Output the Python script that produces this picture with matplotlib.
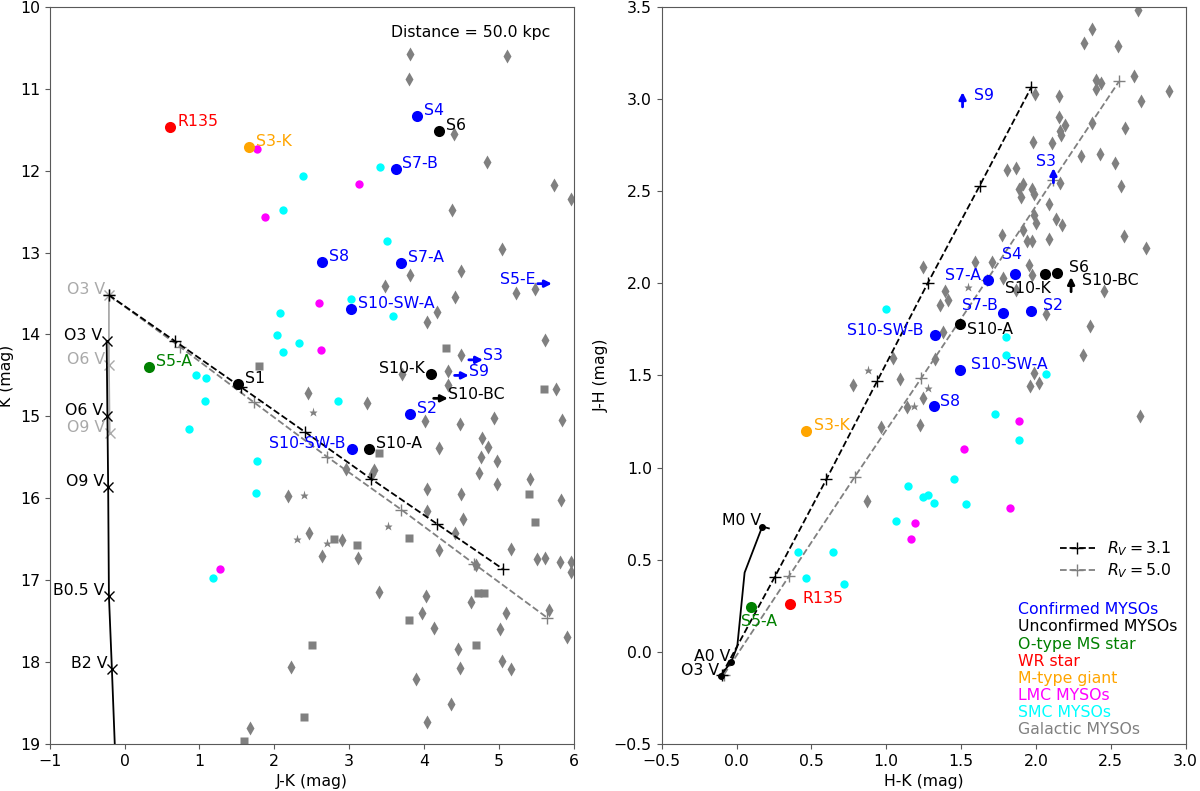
import numpy as np
import matplotlib
matplotlib.use('Agg')
import matplotlib.pyplot as plt
from matplotlib.lines import Line2D

plt.rcParams['font.size'] = 11.3
FS = 11.3

# ---------------- left panel: K vs J-K ----------------
# named sources (J-K, K)
conf_jk = [3.91, 3.62, 2.64, 3.70, 3.02, 3.82, 3.04]
conf_k = [11.33, 11.98, 13.12, 13.13, 13.69, 14.97, 15.40]
conf_names = ['S4', 'S7-B', 'S8', 'S7-A', 'S10-SW-A', 'S2', 'S10-SW-B']

unconf_jk = [4.20, 1.51, 4.10, 3.27]
unconf_k = [11.52, 14.60, 14.48, 15.40]
unconf_names = ['S6', 'S1', 'S10-K', 'S10-A']

ostar_jk, ostar_k = [0.33], [14.40]
wr_jk, wr_k = [0.61], [11.47]
mgiant_jk, mgiant_k = [1.66], [11.71]

# lower limits in J-K (arrows): name, J-K, K, colour
limits_left = [('S3', 4.60, 14.31, 'blue'),
               ('S9', 4.41, 14.50, 'blue'),
               ('S5-E', 5.52, 13.38, 'blue'),
               ('S10-BC', 4.13, 14.78, 'black')]

lmc_jk = [1.77, 3.13, 1.88, 2.60, 2.62, 1.28]
lmc_k = [11.74, 12.16, 12.57, 13.61, 14.19, 16.86]

smc_jk = [3.41, 2.39, 2.12, 3.51, 3.02, 3.58, 2.08, 2.04, 2.33, 2.12,
          0.95, 1.09, 1.08, 2.85, 0.86, 1.77, 1.75, 1.18]
smc_k = [11.95, 12.06, 12.48, 12.86, 13.57, 13.78, 13.74, 14.01, 14.10, 14.21,
         14.50, 14.53, 14.81, 14.81, 15.15, 15.55, 15.93, 16.97]

gal_d_jk = [3.81, 5.11, 3.80, 4.40, 4.84, 5.74, 5.96, 4.37, 5.04, 4.49,
            3.82, 3.48, 4.42, 5.23, 5.49, 4.17, 4.04, 5.62, 4.49, 3.71,
            4.32, 4.32, 5.76, 2.45, 3.24, 4.48, 4.93, 4.02, 5.85, 4.20,
            4.77, 4.86, 4.76, 4.97, 4.74, 4.97, 5.42, 5.83, 2.96, 3.33,
            3.31, 2.18, 4.04, 4.49, 4.04, 4.52, 4.41, 2.47, 2.91, 2.64,
            3.12, 4.20, 5.16, 5.51, 5.62, 5.82, 5.96, 5.96, 4.69, 3.40,
            4.03, 4.63, 3.98, 5.10, 5.67, 4.13, 5.01, 5.91, 4.46, 4.48,
            5.04, 5.17, 2.23, 3.90, 4.36, 4.04, 1.68]
gal_d_k = [10.58, 10.60, 10.88, 11.55, 11.90, 12.18, 12.35, 12.48, 12.96, 13.22,
           13.27, 13.41, 13.54, 13.49, 13.45, 13.72, 13.85, 14.07, 14.25, 14.48,
           14.45, 14.62, 14.66, 14.72, 14.84, 15.09, 15.02, 15.06, 15.04, 15.39,
           15.27, 15.38, 15.49, 15.55, 15.69, 15.82, 15.77, 16.02, 15.64, 15.65,
           15.70, 15.97, 15.89, 15.95, 16.16, 16.25, 16.43, 16.43, 16.51, 16.71,
           16.73, 16.63, 16.62, 16.74, 16.73, 16.78, 16.78, 16.90, 16.81, 17.14,
           17.19, 17.27, 17.40, 17.40, 17.37, 17.58, 17.59, 17.69, 17.84, 18.07,
           17.99, 18.09, 18.06, 18.21, 18.51, 18.73, 18.80]
gal_s_jk = [1.80, 4.29, 5.60, 3.40, 2.80, 3.10, 3.80, 5.40, 5.49, 4.72,
            4.80, 3.80, 2.50, 4.69, 2.40, 1.60]
gal_s_k = [14.38, 14.16, 14.66, 15.45, 16.50, 16.57, 16.49, 15.95, 16.29, 17.16,
           17.16, 17.48, 17.79, 17.79, 18.67, 18.96]
gal_st_jk = [2.52, 2.40, 2.30, 2.70, 3.52]
gal_st_k = [14.95, 15.96, 16.50, 16.54, 16.34]

# main sequence at 50 kpc
ms_names = ['O3 V', 'O6 V', 'O9 V', 'B0.5 V', 'B2 V']
ms_jk = [-0.24, -0.23, -0.22, -0.21, -0.17, -0.09]
ms_k = [14.08, 15.00, 15.86, 17.19, 18.09, 20.0]
ms2_names = ['O3 V', 'O6 V', 'O9 V']
ms2_jk = [-0.21, -0.21, -0.20]
ms2_k = [13.52, 14.37, 15.20]

# reddening vectors from O3 V
rv31_jk = [-0.21, 0.67, 1.55, 2.41, 3.29, 4.17, 5.05]
rv31_k = [13.52, 14.08, 14.64, 15.19, 15.76, 16.31, 16.86]
rv50_jk = [-0.21, 0.74, 1.73, 2.70, 3.70, 4.67, 5.65]
rv50_k = [13.52, 14.15, 14.83, 15.49, 16.14, 16.80, 17.46]

# ---------------- right panel: J-H vs H-K ----------------
conf_hk = [1.86, 1.78, 1.316, 1.68, 1.49, 1.97, 1.325]
conf_jh = [2.05, 1.84, 1.335, 2.02, 1.53, 1.85, 1.72]

unconf_hk = [2.144, 2.063, 1.494]
unconf_jh = [2.057, 2.048, 1.778]

ostar_hk, ostar_jh = [0.094], [0.241]
wr_hk, wr_jh = [0.354], [0.262]
mgiant_hk, mgiant_jh = [0.465], [1.20]

# lower limits in J-H (arrows)
limits_right = [('S9', 1.51, 2.957, 'blue'),
                ('S3', 2.117, 2.545, 'blue'),
                ('S10-BC', 2.235, 1.954, 'black')]

lmc_hk = [1.89, 1.52, 1.824, 1.19, 1.165]
lmc_jh = [1.25, 1.10, 0.78, 0.70, 0.61]

smc_hk = [1.00, 1.80, 1.80, 2.07, 1.73, 1.885, 1.456, 1.145, 1.244, 1.277,
          1.316, 1.53, 1.063, 0.41, 0.644, 0.465, 0.72]
smc_jh = [1.86, 1.71, 1.61, 1.51, 1.29, 1.15, 0.94, 0.90, 0.84, 0.853,
          0.81, 0.80, 0.71, 0.54, 0.54, 0.40, 0.37]

gal_d_hk = [2.685, 2.377, 2.324, 2.549, 2.653, 2.403, 2.437, 2.403, 2.889, 1.994,
            2.154, 2.703, 2.154, 2.597, 2.377, 2.194, 2.16, 2.17, 1.983, 2.106,
            2.298, 2.428, 2.529, 1.81, 1.87, 1.885, 1.914, 1.975, 1.99, 2.164,
            1.90, 2.09, 2.569, 1.985, 2.137, 2.175, 1.999, 1.914, 1.774, 1.943,
            1.975, 2.086, 2.586, 2.738, 1.596, 1.707, 1.244, 1.952, 1.975, 1.78,
            1.87, 2.457, 1.396, 1.414, 1.362, 2.068, 2.359, 1.38, 2.313, 1.044,
            1.325, 1.99, 1.963, 2.019, 1.089, 0.78, 1.244, 1.14, 0.966, 1.224,
            2.698, 0.87]
gal_d_jh = [3.482, 3.377, 3.306, 3.287, 3.124, 3.102, 3.088, 3.052, 3.044, 3.026,
            3.017, 2.988, 2.90, 2.84, 2.867, 2.856, 2.825, 2.804, 2.767, 2.762,
            2.69, 2.699, 2.655, 2.617, 2.626, 2.514, 2.541, 2.514, 2.487, 2.545,
            2.466, 2.428, 2.527, 2.37, 2.346, 2.314, 2.325, 2.288, 2.263, 2.229,
            2.229, 2.24, 2.257, 2.189, 2.116, 2.116, 2.086, 2.098, 2.044, 2.03,
            1.963, 1.959, 1.959, 1.908, 1.881, 1.832, 1.767, 1.736, 1.61, 1.596,
            1.587, 1.511, 1.442, 1.46, 1.483, 1.45, 1.38, 1.33, 1.22, 1.23,
            1.279, 0.82]
gal_st_hk = [0.88, 1.276, 1.547, 1.184]
gal_st_jh = [1.53, 1.433, 1.979, 1.333]

# intrinsic dwarf colours
track_hk = [-0.106, -0.035, 0.005, 0.054, 0.172, 0.216]
track_jh = [-0.129, -0.054, 0.03, 0.43, 0.68, 0.67]
track_lab = [('O3 V', -0.106, -0.129), ('A0 V', -0.035, -0.054), ('M0 V', 0.172, 0.68)]

rv31_hk = [-0.10, 0.255, 0.60, 0.94, 1.277, 1.625, 1.97]
rv31_jh = [-0.125, 0.406, 0.936, 1.47, 2.00, 2.53, 3.065]
rv50_hk = [-0.084, 0.35, 0.79, 1.234, 1.675, 2.115, 2.555]
rv50_jh = [-0.123, 0.41, 0.95, 1.485, 2.02, 2.56, 3.095]

legend_labels = ['Confirmed MYSOs', 'Unconfirmed MYSOs', 'O-type MS star', 'WR star',
                 'M-type giant', 'LMC MYSOs', 'SMC MYSOs', 'Galactic MYSOs']
legend_colors = ['blue', 'black', 'green', 'red', 'orange', 'magenta', 'cyan', 'grey']


def style_axes(ax):
    for sp in ax.spines.values():
        sp.set_color('0.35')
    ax.tick_params(color='0.35', labelsize=FS)


def lab(ax, text, x, y, color, dx=5, dy=4, ha='left'):
    ax.annotate(text, (x, y), xytext=(dx, dy), textcoords='offset points',
                color=color, ha=ha, va='center', fontsize=FS)


def arrow(ax, x0, y0, x1, y1, color):
    ax.annotate('', xy=(x1, y1), xytext=(x0, y0),
                arrowprops=dict(arrowstyle='-|>', color=color, lw=2,
                                mutation_scale=10, shrinkA=0, shrinkB=0))


fig = plt.figure(figsize=(12, 7.91), dpi=100)
ax1 = fig.add_axes([0.0415, 0.0594, 0.4365, 0.932])
ax2 = fig.add_axes([0.5514, 0.0594, 0.4366, 0.932])

# ----- left -----
ax1.plot(gal_d_jk, gal_d_k, 'd', color='grey', ms=7, mec='none', zorder=2)
ax1.plot(gal_s_jk, gal_s_k, 's', color='grey', ms=5.5, mec='none', zorder=2)
ax1.plot(gal_st_jk, gal_st_k, '*', color='grey', ms=6.5, mec='none', zorder=2)

ax1.plot(ms2_jk, ms2_k, '-', color='darkgrey', lw=1.3, zorder=3)
ax1.plot(ms2_jk, ms2_k, 'x', color='darkgrey', ms=7.5, zorder=3)
ax1.plot(ms_jk, ms_k, '-', color='black', lw=1.3, zorder=3)
ax1.plot(ms_jk[:-1], ms_k[:-1], 'x', color='black', ms=7.5, zorder=3)
for n, x, y in zip(ms2_names, ms2_jk, ms2_k):
    lab(ax1, n, x, y, 'darkgrey', dx=-3, dy=4, ha='right')
for n, x, y in zip(ms_names, ms_jk, ms_k):
    lab(ax1, n, x, y, 'black', dx=-3, dy=4, ha='right')

ax1.plot(rv50_jk, rv50_k, '--', color='grey', lw=1.3, marker='+', ms=8, zorder=3)
ax1.plot(rv31_jk, rv31_k, '--', color='black', lw=1.3, marker='+', ms=8, zorder=3)

ax1.plot(smc_jk, smc_k, 'o', color='cyan', ms=6, mec='none', zorder=4)
ax1.plot(lmc_jk, lmc_k, 'o', color='magenta', ms=6, mec='none', zorder=4)

ax1.plot(conf_jk, conf_k, 'o', color='blue', ms=8, mec='none', zorder=5)
ax1.plot(unconf_jk, unconf_k, 'o', color='black', ms=8, mec='none', zorder=5)
ax1.plot(ostar_jk, ostar_k, 'o', color='green', ms=8, mec='none', zorder=5)
ax1.plot(wr_jk, wr_k, 'o', color='red', ms=8, mec='none', zorder=5)
ax1.plot(mgiant_jk, mgiant_k, 'o', color='orange', ms=8, mec='none', zorder=5)

for n, x, y in zip(conf_names, conf_jk, conf_k):
    if n == 'S10-SW-B':
        lab(ax1, n, x, y, 'blue', dx=-5, ha='right')
    else:
        lab(ax1, n, x, y, 'blue')
for n, x, y in zip(unconf_names, unconf_jk, unconf_k):
    if n == 'S10-K':
        lab(ax1, n, x, y, 'black', dx=-5, ha='right')
    else:
        lab(ax1, n, x, y, 'black')
lab(ax1, 'S5-A', ostar_jk[0], ostar_k[0], 'green')
lab(ax1, 'R135', wr_jk[0], wr_k[0], 'red')
lab(ax1, 'S3-K', mgiant_jk[0], mgiant_k[0], 'orange')

for n, x, y, c in limits_left:
    arrow(ax1, x, y, x + 0.19, y, c)
    if n == 'S5-E':
        ax1.text(x - 0.03, y - 0.05, n, color=c, ha='right', va='center', fontsize=FS)
    else:
        ax1.text(x + 0.19, y - 0.05, n, color=c, ha='left', va='center', fontsize=FS)

ax1.text(0.955, 0.975, 'Distance = 50.0 kpc', transform=ax1.transAxes,
         ha='right', va='top', fontsize=FS)
ax1.set_xlim(-1, 6)
ax1.set_ylim(19, 10)
ax1.set_xlabel('J-K (mag)', fontsize=FS)
ax1.set_ylabel('K (mag)', fontsize=FS)
style_axes(ax1)

# ----- right -----
ax2.plot(gal_d_hk, gal_d_jh, 'd', color='grey', ms=7, mec='none', zorder=2)
ax2.plot(gal_st_hk, gal_st_jh, '*', color='grey', ms=6.5, mec='none', zorder=2)

ax2.plot(rv50_hk, rv50_jh, '--', color='grey', lw=1.3, marker='+', ms=8, zorder=3)
ax2.plot(rv31_hk, rv31_jh, '--', color='black', lw=1.3, marker='+', ms=8, zorder=3)
ax2.plot(track_hk, track_jh, '-', color='black', lw=1.3, zorder=3)
for n, x, y in track_lab:
    ax2.plot(x, y, 'o', color='black', ms=4, zorder=3)
    lab(ax2, n, x, y, 'black', dx=-1, dy=4, ha='right')

ax2.plot(smc_hk, smc_jh, 'o', color='cyan', ms=6, mec='none', zorder=4)
ax2.plot(lmc_hk, lmc_jh, 'o', color='magenta', ms=6, mec='none', zorder=4)

ax2.plot(conf_hk, conf_jh, 'o', color='blue', ms=8, mec='none', zorder=5)
ax2.plot(unconf_hk, unconf_jh, 'o', color='black', ms=8, mec='none', zorder=5)
ax2.plot(ostar_hk, ostar_jh, 'o', color='green', ms=8, mec='none', zorder=5)
ax2.plot(wr_hk, wr_jh, 'o', color='red', ms=8, mec='none', zorder=5)
ax2.plot(mgiant_hk, mgiant_jh, 'o', color='orange', ms=8, mec='none', zorder=5)

# labels right panel
lab(ax2, 'S4', conf_hk[0], conf_jh[0], 'blue', dx=-2, dy=14, ha='center')
lab(ax2, 'S7-B', conf_hk[1], conf_jh[1], 'blue', dx=-4, dy=5, ha='right')
lab(ax2, 'S8', conf_hk[2], conf_jh[2], 'blue', dx=5, dy=3)
lab(ax2, 'S7-A', conf_hk[3], conf_jh[3], 'blue', dx=-5, dy=3, ha='right')
lab(ax2, 'S10-SW-A', conf_hk[4], conf_jh[4], 'blue', dx=8, dy=4)
lab(ax2, 'S2', conf_hk[5], conf_jh[5], 'blue', dx=8, dy=4)
lab(ax2, 'S10-SW-B', conf_hk[6], conf_jh[6], 'blue', dx=-8, dy=3, ha='right')
lab(ax2, 'S6', unconf_hk[0], unconf_jh[0], 'black', dx=8, dy=4)
lab(ax2, 'S10-K', unconf_hk[1], unconf_jh[1], 'black', dx=4, dy=-10, ha='right')
lab(ax2, 'S10-A', unconf_hk[2], unconf_jh[2], 'black', dx=5, dy=-4)
lab(ax2, 'S5-A', ostar_hk[0], ostar_jh[0], 'green', dx=6, dy=-10, ha='center')
lab(ax2, 'R135', wr_hk[0], wr_jh[0], 'red', dx=9, dy=4)
lab(ax2, 'S3-K', mgiant_hk[0], mgiant_jh[0], 'orange', dx=6, dy=4)

for n, x, y, c in limits_right:
    arrow(ax2, x, y, x, y + 0.08, c)
    if n == 'S3':
        ax2.text(x - 0.05, y + 0.118, n, color=c, ha='center', va='center', fontsize=FS)
    else:
        ax2.text(x + 0.075, y + 0.06, n, color=c, ha='left', va='center', fontsize=FS)

handles = [Line2D([], [], ls='--', color='black', marker='+', ms=8, lw=1.3),
           Line2D([], [], ls='--', color='grey', marker='+', ms=8, lw=1.3)]
ax2.legend(handles, [r'$R_V = 3.1$', r'$R_V = 5.0$'], loc='center right',
           bbox_to_anchor=(1.0, 0.25), frameon=False, fontsize=FS,
           handlelength=2.2, labelspacing=0.2)

for i, (t, c) in enumerate(zip(legend_labels, legend_colors)):
    ax2.text(0.68, 0.182 - i * 0.0232, t, color=c, transform=ax2.transAxes,
             ha='left', va='center', fontsize=FS)

ax2.set_xlim(-0.5, 3.0)
ax2.set_ylim(-0.5, 3.5)
ax2.set_xlabel('H-K (mag)', fontsize=FS)
ax2.set_ylabel('J-H (mag)', fontsize=FS)
style_axes(ax2)

fig.savefig('out.png', dpi=100)
